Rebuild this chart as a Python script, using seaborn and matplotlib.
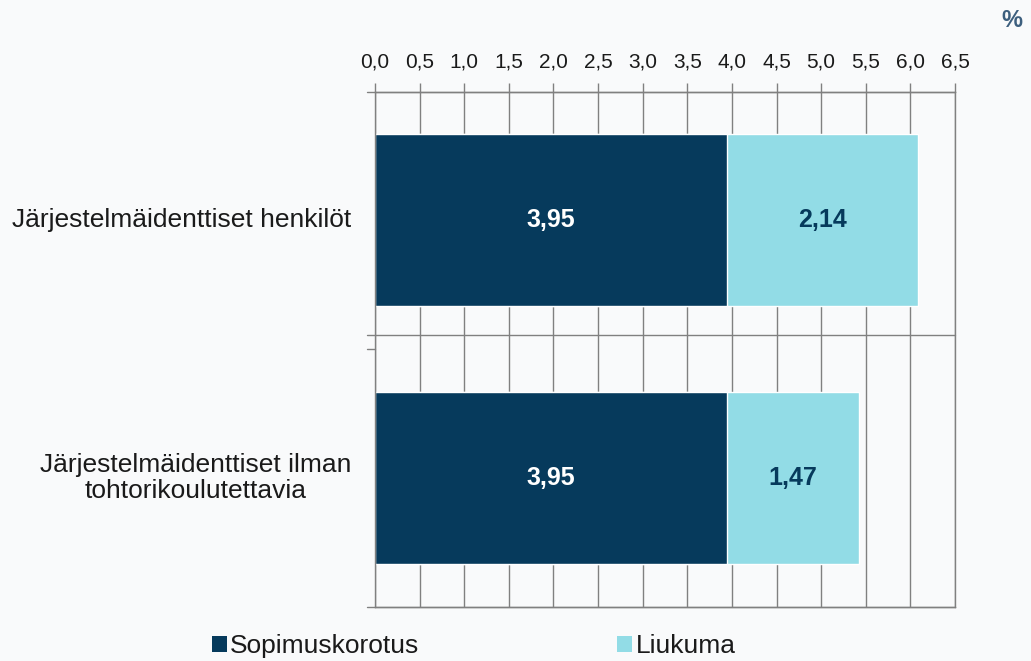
import matplotlib
matplotlib.use("Agg")
import matplotlib.pyplot as plt
import seaborn as sns
import pandas as pd
from matplotlib.patches import Patch
from matplotlib.ticker import MultipleLocator, FuncFormatter

categories = ["Järjestelmäidenttiset henkilöt", "Järjestelmäidenttiset ilman\ntohtorikoulutettavia"]
sopimuskorotus = [3.95, 3.95]
liukuma = [2.14, 1.47]
series_names = ["Sopimuskorotus", "Liukuma"]

dark = "#063a5c"
light = "#92dce6"
grid_c = "#808080"
bg = "#f9fafb"
txt = "#1a1a1a"

sns.set_theme(style="white")
plt.rcParams['font.family'] = ['Liberation Sans', 'DejaVu Sans']

df = pd.DataFrame({"cat": categories, "sop": sopimuskorotus, "liu": liukuma})
df["total"] = df["sop"] + df["liu"]

fig = plt.figure(figsize=(10.31, 6.61), dpi=100, facecolor=bg)
ax = fig.add_axes([375 / 1031, 1 - 607 / 661, 580 / 1031, (607 - 91.5) / 661])
ax.set_facecolor(bg)

sns.barplot(data=df, x="total", y="cat", color=light, saturation=1, width=0.668, ax=ax, orient="h")
sns.barplot(data=df, x="sop", y="cat", color=dark, saturation=1, width=0.668, ax=ax, orient="h")

ax.set_xlim(0, 6.5)
ax.set_ylim(1.5, -0.5)
ax.set_xlabel("")
ax.set_ylabel("")

ax.xaxis.set_major_locator(MultipleLocator(0.5))
ax.xaxis.set_major_formatter(FuncFormatter(lambda v, p: f"{v:.1f}".replace(".", ",")))
ax.xaxis.tick_top()
ax.tick_params(axis="x", direction="out", length=6.5, color=grid_c, width=1, pad=8,
               labelsize=15, labelcolor=txt)
ax.grid(axis="x", color=grid_c, linewidth=1)
ax.set_axisbelow(True)

for side in ["top", "left", "right", "bottom"]:
    ax.spines[side].set_visible(True)
    ax.spines[side].set_color(grid_c)
    ax.spines[side].set_linewidth(1)

# horizontal category boundary lines extending slightly left of the axis
ytr = ax.get_yaxis_transform()
ext = -8 / 580
for yb in [-0.5, 0.443, 1.5]:
    ax.plot([ext, 1], [yb, yb], color=grid_c, linewidth=1, transform=ytr, clip_on=False, zorder=1)
ax.plot([ext, 0], [0.5, 0.5], color=grid_c, linewidth=1, transform=ytr, clip_on=False, zorder=1)

# category labels
ax.set_yticks([])
for i, c in enumerate(categories):
    ax.text(-24 / 580, i, c, transform=ytr, ha="right", va="center", multialignment="center",
            fontsize=19, color=txt, linespacing=1.1)

# data labels
for i in range(len(categories)):
    s = sopimuskorotus[i]
    l = liukuma[i]
    ax.text(s / 2, i, f"{s:.2f}".replace(".", ","), ha="center", va="center",
            color="white", fontsize=18, fontweight="bold")
    ax.text(s + l / 2, i, f"{l:.2f}".replace(".", ","), ha="center", va="center",
            color=dark, fontsize=18, fontweight="bold")

fig.text(1012 / 1031, 1 - 20.5 / 661, "%", ha="center", va="center", fontsize=17,
         fontweight="bold", color="#3d5f7e")

handles = [Patch(facecolor=dark, edgecolor="none"), Patch(facecolor=light, edgecolor="none")]
fig.legend(handles, series_names, loc="center left", bbox_to_anchor=(212 / 1031, 1 - 646 / 661),
           ncol=2, frameon=False, fontsize=19, handlelength=0.57, handleheight=0.57,
           handletextpad=0.12, columnspacing=7.5, borderpad=0, borderaxespad=0,
           labelcolor=txt)

fig.savefig("out.png", dpi=100, facecolor=bg)
